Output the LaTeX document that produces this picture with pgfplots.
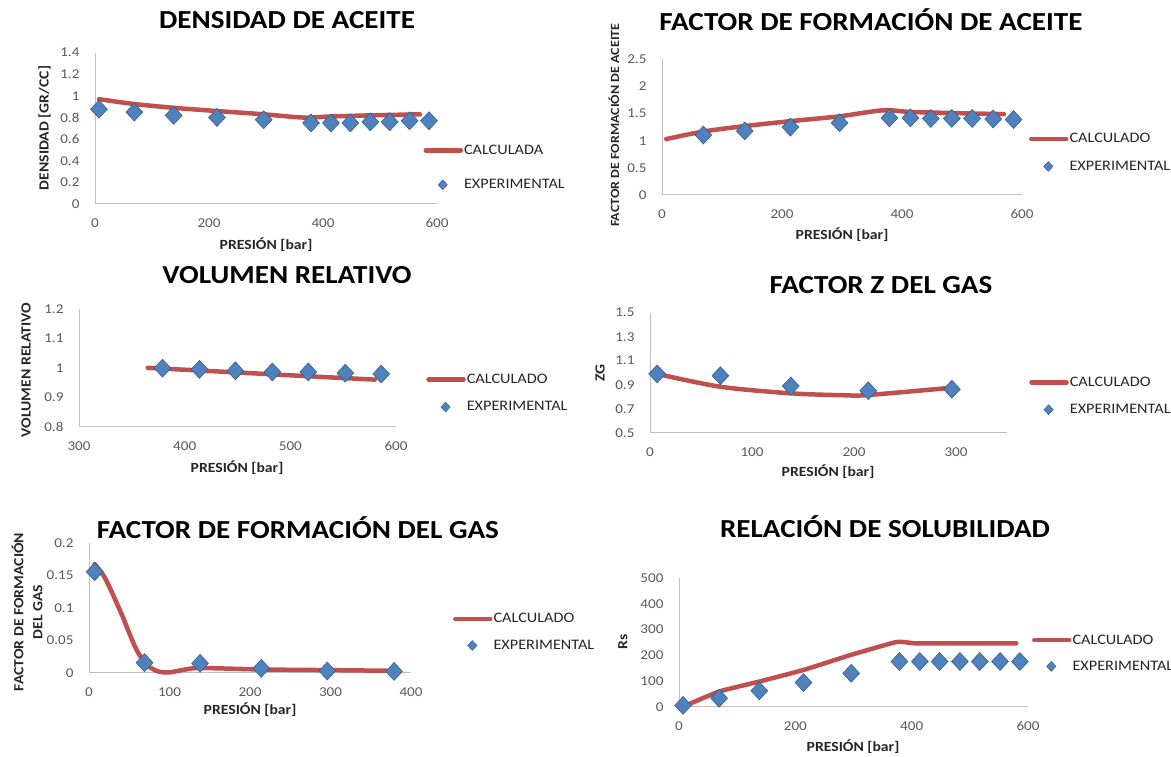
\documentclass[border=0pt]{standalone}
\usepackage{fontspec}
\setmainfont{Carlito}[FakeStretch=1.12]
\usepackage{pgfplots}
\pgfplotsset{compat=1.18}
\definecolor{calc}{HTML}{C0504D}
\definecolor{expf}{HTML}{4F81BD}
\definecolor{expd}{HTML}{2C5A8E}
\definecolor{tickc}{HTML}{595959}
\definecolor{labc}{HTML}{262626}
\definecolor{axc}{HTML}{BFBFBF}
\pgfplotsset{
  pvt/.style={
    scale only axis, clip=false,
    axis x line*=bottom, axis y line*=left,
    axis line style={-, draw=axc, line width=1pt},
    major tick length=0pt,
    tick style={draw=none},
    tick label style={font=\fontsize{13.5}{14}\selectfont, text=tickc},
    xticklabel style={anchor=center, yshift=-19pt},
    yticklabel style={anchor=east, xshift=-12pt},
    /pgf/number format/assume math mode=true,
    scaled ticks=false,
    legend cell align=left,
    legend style={draw=none, fill=none, inner sep=0pt, anchor=west,
      font=\fontsize{14.5}{15}\selectfont, text=labc, nodes={inner sep=1pt}},
  },
  calcl/.style={color=calc, line width=4.5pt, smooth, no marks, line cap=round,
    legend image code/.code={\path[draw=none, fill=none] (0pt,-6pt) rectangle (35pt,6pt);
      \draw[calc, line width=4.5pt] (0pt,0pt) -- (35pt,0pt);}},
  expm/.style={only marks, mark=diamond*, mark size=9pt,
    mark options={fill=expf, draw=expd, line width=0.5pt, xscale=1.25},
    legend image code/.code={\path[draw=none, fill=none] (0pt,-6pt) rectangle (35pt,6pt);
      \draw[mark options={fill=expf, draw=expd, line width=0.4pt, xscale=1.25, scale=0.55}] plot coordinates {(17pt,0pt)};}},
}
\tikzset{
  ttl/.style={font=\fontsize{26}{28}\selectfont\bfseries, text=black},
  xl/.style={font=\fontsize{14}{15}\selectfont\bfseries, text=labc},
  yl/.style={font=\fontsize{14}{19}\selectfont\bfseries, text=labc, rotate=90, align=center},
}
\begin{document}
\begin{tikzpicture}
\path[use as bounding box] (0pt,0pt) rectangle (1171pt,757pt);

% ---------- Panel 1: Densidad de aceite ----------
\begin{axis}[pvt, at={(95pt,553pt)}, anchor=south west, width=342pt, height=151.3pt,
  xmin=0, xmax=600, ymin=0, ymax=1.4,
  xtick={0,200,400,600}, xticklabels={0,200,400,600},
  ytick={0,0.2,0.4,0.6,0.8,1,1.2,1.4}, yticklabels={0,0.2,0.4,0.6,0.8,1,1.2,1.4},
  legend style={at={(0.96,0.241)}, row sep=21.6pt}]
\addplot[calcl] coordinates {(7,0.97) (69,0.925) (138,0.89) (214,0.86) (296,0.83) (365,0.80) (414,0.81) (483,0.82) (570,0.83)};
\addlegendentry{CALCULADA}
\addplot[expm] coordinates {(7,0.877) (69,0.85) (138,0.82) (214,0.80) (296,0.78) (379,0.75) (414,0.75) (448,0.75) (483,0.76) (517,0.76) (552,0.77) (586,0.77)};
\addlegendentry{EXPERIMENTAL}
\end{axis}
\node[ttl] at (287pt,737pt) {DENSIDAD DE ACEITE};
\node[xl] at (266pt,512pt) {PRESIÓN [bar]};
\node[yl] at (44.5pt,629pt) {DENSIDAD [GR/CC]};

% ---------- Panel 2: Factor de formacion de aceite ----------
\begin{axis}[pvt, at={(662pt,562pt)}, anchor=south west, width=360pt, height=135.7pt,
  xmin=0, xmax=600, ymin=0, ymax=2.5,
  xtick={0,200,400,600}, xticklabels={0,200,400,600},
  ytick={0,0.5,1,1.5,2,2.5}, yticklabels={0,0.5,1,1.5,2,2.5},
  legend style={at={(1.019,0.312)}, row sep=14.7pt}]
\addplot[calcl] coordinates {(7,1.03) (69,1.17) (138,1.27) (214,1.36) (296,1.45) (368,1.56) (414,1.53) (483,1.51) (570,1.49)};
\addlegendentry{CALCULADO}
\addplot[expm] coordinates {(69,1.105) (138,1.18) (214,1.25) (296,1.33) (379,1.42) (414,1.42) (448,1.41) (483,1.41) (517,1.41) (552,1.40) (586,1.39)};
\addlegendentry{EXPERIMENTAL}
\end{axis}
\node[ttl] at (871pt,737pt) {FACTOR DE FORMACIÓN DE ACEITE};
\node[xl] at (842pt,522pt) {PRESIÓN [bar]};
\node[yl, font=\fontsize{12.5}{14}\selectfont\bfseries] at (614pt,632pt) {FACTOR DE FORMACIÓN DE ACEITE};

% ---------- Panel 3: Volumen relativo ----------
\begin{axis}[pvt, at={(79pt,330.3pt)}, anchor=south west, width=317pt, height=117.7pt,
  xmin=300, xmax=600, ymin=0.8, ymax=1.2,
  xtick={300,400,500,600}, xticklabels={300,400,500,600},
  ytick={0.8,0.9,1,1.1,1.2}, yticklabels={0.8,0.9,1,1.1,1.2},
  legend style={at={(1.095,0.284)}, row sep=14.7pt}]
\addplot[calcl] coordinates {(365,1.0) (414,0.991) (483,0.978) (530,0.969) (580,0.96)};
\addlegendentry{CALCULADO}
\addplot[expm] coordinates {(379,0.999) (414,0.995) (448,0.99) (483,0.986) (517,0.986) (552,0.982) (586,0.979)};
\addlegendentry{EXPERIMENTAL}
\end{axis}
\node[ttl] at (287pt,482pt) {VOLUMEN RELATIVO};
\node[xl] at (237pt,289pt) {PRESIÓN [bar]};
\node[yl] at (26pt,387pt) {VOLUMEN RELATIVO};

% ---------- Panel 4: Factor Z del gas ----------
\begin{axis}[pvt, at={(650pt,324.3pt)}, anchor=south west, width=357pt, height=120pt,
  xmin=0, xmax=350, ymin=0.5, ymax=1.5,
  xtick={0,100,200,300}, xticklabels={0,100,200,300},
  ytick={0.5,0.7,0.9,1.1,1.3,1.5}, yticklabels={0.5,0.7,0.9,1.1,1.3,1.5},
  legend style={at={(1.062,0.306)}, row sep=14.6pt}]
\addplot[calcl] coordinates {(7,0.99) (69,0.883) (138,0.828) (190,0.812) (214,0.814) (296,0.875)};
\addlegendentry{CALCULADO}
\addplot[expm] coordinates {(7,0.99) (69,0.975) (138,0.889) (214,0.85) (296,0.862)};
\addlegendentry{EXPERIMENTAL}
\end{axis}
\node[ttl] at (881pt,472pt) {FACTOR Z DEL GAS};
\node[xl] at (828pt,285pt) {PRESIÓN [bar]};
\node[yl] at (600pt,384pt) {ZG};

% ---------- Panel 5: Factor de formacion del gas ----------
\begin{axis}[pvt, at={(89pt,84.3pt)}, anchor=south west, width=322pt, height=129.4pt,
  xmin=0, xmax=400, ymin=0, ymax=0.2,
  xtick={0,100,200,300,400}, xticklabels={0,100,200,300,400},
  ytick={0,0.05,0.1,0.15,0.2}, yticklabels={0,0.05,0.1,0.15,0.2},
  legend style={at={(1.130,0.313)}, row sep=13.7pt}]
\addplot[calcl] coordinates {(7,0.168) (20,0.146) (40,0.092) (58,0.038) (72,0.012) (86,0.002) (100,0.0005) (120,0.005) (140,0.0072) (214,0.005) (296,0.004) (370,0.003)};
\addlegendentry{CALCULADO}
\addplot[expm] coordinates {(7,0.156) (69,0.0155) (138,0.0145) (214,0.0068) (296,0.0026) (379,0.002)};
\addlegendentry{EXPERIMENTAL}
\end{axis}
\node[ttl] at (298pt,229pt) {FACTOR DE FORMACIÓN DEL GAS};
\node[xl] at (250pt,47pt) {PRESIÓN [bar]};
\node[yl] at (27pt,145pt) {FACTOR DE FORMACIÓN\\DEL GAS};

% ---------- Panel 6: Relacion de solubilidad ----------
\begin{axis}[pvt, at={(679pt,50.3pt)}, anchor=south west, width=349pt, height=128.4pt,
  xmin=0, xmax=600, ymin=0, ymax=500,
  xtick={0,200,400,600}, xticklabels={0,200,400,600},
  ytick={0,100,200,300,400,500}, yticklabels={0,100,200,300,400,500},
  legend style={at={(1.011,0.416)}, row sep=13.3pt}]
\addplot[calcl, tension=0.3] coordinates {(7,0) (69,59) (138,98) (214,143) (296,202) (370,250) (385,252) (405,247) (450,247) (580,247)};
\addlegendentry{CALCULADO}
\addplot[expm] coordinates {(7,5) (69,33) (138,62) (214,94) (296,130) (379,176) (414,176) (448,176) (483,176) (517,176) (552,176) (586,176)};
\addlegendentry{EXPERIMENTAL}
\end{axis}
\node[ttl] at (885pt,230pt) {RELACIÓN DE SOLUBILIDAD};
\node[xl] at (853pt,10pt) {PRESIÓN [bar]};
\node[yl] at (623pt,115pt) {Rs};
\end{tikzpicture}
\end{document}
